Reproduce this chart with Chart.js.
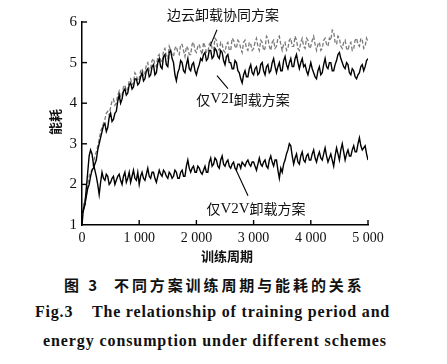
<!DOCTYPE html>
<html><head><meta charset="utf-8">
<script src="https://cdn.jsdelivr.net/npm/chart.js@4.4.1/dist/chart.umd.min.js"></script>
<style>
html,body{margin:0;padding:0;background:#fff;}
#wrap{position:relative;width:447px;height:364px;overflow:hidden;background:#fff;}
#c{position:absolute;left:0;top:0;}
.cap{position:absolute;white-space:nowrap;color:#111;}
.cn{font-family:"Noto Sans CJK SC";font-weight:bold;font-size:15px;letter-spacing:2.9px;}
.en{font-family:"Liberation Serif";font-weight:bold;font-size:16px;}
</style></head>
<body><div id="wrap">
<canvas id="c" width="447" height="270"></canvas>
<div class="cap cn" style="left:64px;top:274px;">图 3</div>
<div class="cap cn" style="left:114px;top:274px;">不同方案训练周期与能耗的关系</div>
<div class="cap en" style="left:35px;top:303px;letter-spacing:0.8px;">Fig.3</div>
<div class="cap en" style="left:92px;top:303px;letter-spacing:0.8px;">The relationship of training period and</div>
<div class="cap en" style="left:43px;top:332px;letter-spacing:0.9px;">energy consumption under different schemes</div>
</div>
<script>
// training period (epochs), step 25
const epochs = [];
for (let e = 0; e <= 5000; e += 25) epochs.push(e);

const collab = [
1.3,1.5,1.6,1.75,2.0,2.2,2.3,2.35,2.5,2.7,2.8,2.95,3.1,3.3,3.4,3.5,3.6,3.75,3.8,3.7,3.9,4.05,4.1,3.95,4.0,4.2,4.3,4.15,4.2,4.4,4.45,4.3,4.35,4.55,4.6,4.45,4.5,4.75,4.7,4.55,
4.6,4.8,4.85,4.7,4.75,4.95,5.0,4.8,4.85,5.05,5.1,4.95,4.9,5.15,5.2,5.05,5.0,5.3,5.35,5.15,5.1,5.4,5.3,5.2,5.15,5.35,5.4,5.25,5.2,5.45,5.45,5.3,5.15,5.4,5.35,5.2,5.2,5.45,5.5,5.3,
5.25,5.4,5.45,5.3,5.2,5.5,5.4,5.25,5.25,5.45,5.5,5.35,5.3,5.6,5.55,5.35,5.3,5.5,5.45,5.3,5.25,5.45,5.5,5.3,5.3,5.6,5.55,5.4,5.35,5.55,5.5,5.35,5.25,5.5,5.55,5.35,5.3,5.5,5.45,5.3,
5.35,5.5,5.6,5.4,5.3,5.55,5.5,5.3,5.35,5.65,5.6,5.4,5.3,5.5,5.55,5.35,5.4,5.6,5.65,5.45,5.3,5.45,5.5,5.3,5.35,5.55,5.6,5.4,5.4,5.65,5.55,5.35,5.3,5.5,5.6,5.4,5.35,5.6,5.55,5.35,
5.4,5.55,5.65,5.45,5.3,5.45,5.5,5.3,5.35,5.55,5.6,5.45,5.4,5.6,5.55,5.8,5.75,5.5,5.45,5.65,5.6,5.4,5.35,5.5,5.55,5.35,5.3,5.45,5.5,5.3,5.35,5.55,5.6,5.45,5.4,5.6,5.55,5.35,5.4,5.6,
5.5];

const v2i = [
1.3,1.35,1.5,1.7,1.9,2.0,2.2,2.35,2.4,2.5,2.6,2.85,3.0,3.15,3.3,3.45,3.5,3.3,3.4,3.65,3.75,3.55,3.6,3.75,3.8,4.05,4.2,4.0,4.1,4.3,4.35,4.2,4.25,4.45,4.5,4.35,4.4,4.6,4.6,4.45,
4.5,4.65,4.75,4.55,4.6,4.8,4.85,4.65,4.7,4.9,4.95,4.7,4.75,5.0,5.1,4.9,4.85,5.15,5.2,4.95,4.9,5.25,5.3,5.1,5.0,4.7,4.55,4.75,4.85,5.05,5.0,4.8,4.75,4.95,5.1,4.85,4.8,4.95,5.0,4.8,
4.7,4.85,4.95,5.1,5.05,5.2,5.25,5.05,5.1,5.3,5.3,5.1,5.15,5.35,5.3,5.15,5.1,5.3,5.25,5.05,4.95,5.15,5.2,5.0,5.0,4.85,4.85,5.05,5.0,4.8,4.75,4.6,4.5,4.7,4.8,4.65,4.65,4.85,4.95,4.75,
4.7,4.85,4.9,4.7,4.75,4.95,5.0,4.8,4.7,4.9,4.95,4.75,4.8,5.0,5.1,4.9,4.75,4.9,5.0,4.8,4.8,5.05,5.15,4.95,4.85,5.0,5.1,4.9,4.9,5.1,5.2,5.0,4.85,5.0,5.1,4.9,4.95,4.8,4.7,4.85,
5.0,4.85,4.75,4.65,4.6,4.8,4.9,4.7,4.75,4.95,5.1,4.9,4.85,5.0,5.0,4.8,4.8,4.95,5.05,5.2,5.25,5.1,5.0,4.9,4.85,5.0,4.95,4.75,4.7,4.85,4.8,4.65,4.6,4.7,4.75,4.9,4.95,4.8,4.9,5.05,
5.1];

const v2v = [
1.0,1.4,1.5,1.9,2.3,2.7,2.85,2.75,2.5,2.35,2.2,2.0,1.75,2.05,2.3,2.15,2.1,2.25,2.2,2.0,2.05,2.15,2.2,2.0,2.1,2.2,2.25,2.1,2.0,2.2,2.3,2.05,2.15,2.3,2.05,2.2,2.35,2.15,2.1,2.3,
2.0,2.2,2.3,2.15,2.1,2.25,2.4,2.2,2.15,2.3,2.3,2.15,2.05,2.2,2.35,2.25,2.2,2.35,2.3,2.2,2.15,2.3,2.25,2.15,2.2,2.35,2.3,2.15,2.15,2.3,2.35,2.2,2.2,2.45,2.6,2.4,2.3,2.4,2.45,2.3,
2.3,2.45,2.4,2.3,2.25,2.35,2.45,2.3,2.3,2.55,2.65,2.45,2.5,2.65,2.6,2.45,2.4,2.6,2.7,2.5,2.45,2.55,2.6,2.45,2.4,2.5,2.55,2.4,2.35,2.5,2.5,2.4,2.55,2.5,2.45,2.55,2.6,2.5,2.45,2.55,
2.55,2.45,2.35,2.5,2.65,2.5,2.45,2.55,2.6,2.45,2.4,2.6,2.7,2.55,2.45,2.6,2.6,2.35,2.15,2.4,2.3,2.5,2.6,2.75,2.85,3.0,2.95,2.7,2.5,2.65,2.75,2.55,2.5,2.7,2.8,2.6,2.55,2.7,2.75,2.6,
2.6,2.75,2.85,2.65,2.55,2.7,2.8,2.65,2.6,2.75,2.9,2.7,2.55,2.65,2.75,2.6,2.45,2.7,2.9,2.75,2.6,2.85,3.0,2.8,2.6,2.75,2.85,2.7,2.7,2.85,2.95,2.8,2.8,3.0,3.15,2.95,2.85,2.9,2.95,2.75,
2.6];

const xTicks = [0,1000,2000,3000,4000,5000];
const yTicks = [1,2,3,4,5,6];
const seriesNames = ['边云卸载协同方案','仅V2I卸载方案','仅V2V卸载方案'];

const toXY = arr => arr.map((v,i)=>({x:epochs[i], y:v}));

const fmt = v => v >= 1000 ? Math.floor(v/1000) + ' ' + String(v%1000).padStart(3,'0') : String(v);

const annot = {
  id:'annot',
  afterDraw(chart){
    const {ctx, scales:{x,y}, chartArea:a} = chart;
    ctx.save();
    ctx.strokeStyle='#000'; ctx.lineWidth=1.4;
    // inward ticks
    xTicks.forEach(t=>{ if(t===0) return; const px=x.getPixelForValue(t); ctx.beginPath(); ctx.moveTo(px,a.bottom); ctx.lineTo(px,a.bottom-5); ctx.stroke(); });
    yTicks.forEach(t=>{ if(t===1) return; const py=y.getPixelForValue(t); ctx.beginPath(); ctx.moveTo(a.left,py); ctx.lineTo(a.left+5,py); ctx.stroke(); });
    // leader lines
    ctx.lineWidth=1.1;
    const L=(t1,v1,t2,v2)=>{ctx.beginPath();ctx.moveTo(x.getPixelForValue(t1),y.getPixelForValue(v1));ctx.lineTo(x.getPixelForValue(t2),y.getPixelForValue(v2));ctx.stroke();};
    L(2360,5.81,2238,5.40);
    L(2552,4.36,2360,4.68);
    L(2902,1.72,2692,2.36);
    // labels
    ctx.fillStyle='#111'; ctx.textBaseline='middle';
    const T=(s,t,v)=>{
      const parts = s.match(/[A-Za-z0-9]+|[^A-Za-z0-9]+/g);
      const fonts = parts.map(p=>/[A-Za-z0-9]/.test(p)?'15px "Liberation Serif"':'14px "Noto Sans CJK SC"');
      let w=0; parts.forEach((p,i)=>{ctx.font=fonts[i]; w+=ctx.measureText(p).width;});
      let px=x.getPixelForValue(t)-w/2; const py=y.getPixelForValue(v);
      ctx.textAlign='left';
      parts.forEach((p,i)=>{ctx.font=fonts[i]; ctx.fillText(p,px,py); px+=ctx.measureText(p).width;});
    };
    T(seriesNames[0],2465,6.19);
    T(seriesNames[1],2815,4.09);
    T(seriesNames[2],3042,1.40);
    // axis titles
    ctx.textAlign='center';
    ctx.font='bold 13px "Noto Sans CJK SC"';
    ctx.fillText('训练周期',(a.left+a.right)/2+2,256);
    ctx.save(); ctx.translate(55,122); ctx.rotate(-Math.PI/2); ctx.fillText('能耗',0,0); ctx.restore();
    ctx.restore();
  }
};

new Chart(document.getElementById('c'),{
  type:'line',
  data:{datasets:[
    {label:seriesNames[0],data:toXY(collab),borderColor:'#7a7a7a',borderWidth:1.3,borderDash:[4,2],pointRadius:0,tension:0,order:3},
    {label:seriesNames[1],data:toXY(v2i),borderColor:'#000',borderWidth:1.4,pointRadius:0,tension:0,order:2},
    {label:seriesNames[2],data:toXY(v2v),borderColor:'#000',borderWidth:1.4,pointRadius:0,tension:0,order:1}
  ]},
  options:{
    responsive:false,animation:false,
    layout:{padding:{left:0,right:79,top:22,bottom:25}},
    plugins:{legend:{display:false},tooltip:{enabled:false}},
    scales:{
      x:{type:'linear',min:0,max:5000,
        afterFit(s){s.height=20;},
        afterBuildTicks(s){s.ticks=xTicks.map(v=>({value:v}));},
        grid:{display:true,drawOnChartArea:false,drawTicks:false},
        border:{display:true,color:'#000',width:1.5},
        ticks:{padding:5,color:'#111',maxRotation:0,autoSkip:false,font:{family:'Liberation Serif',size:14},callback:v=>fmt(v)}},
      y:{type:'linear',min:1,max:6,
        afterFit(s){s.width=82;},
        afterBuildTicks(s){s.ticks=yTicks.map(v=>({value:v}));},
        grid:{display:true,drawOnChartArea:false,drawTicks:false},
        border:{display:true,color:'#000',width:1.5},
        ticks:{padding:5,color:'#111',font:{family:'Liberation Serif',size:15},callback:v=>String(v)}}
    }
  },
  plugins:[annot]
});
</script></body></html>
